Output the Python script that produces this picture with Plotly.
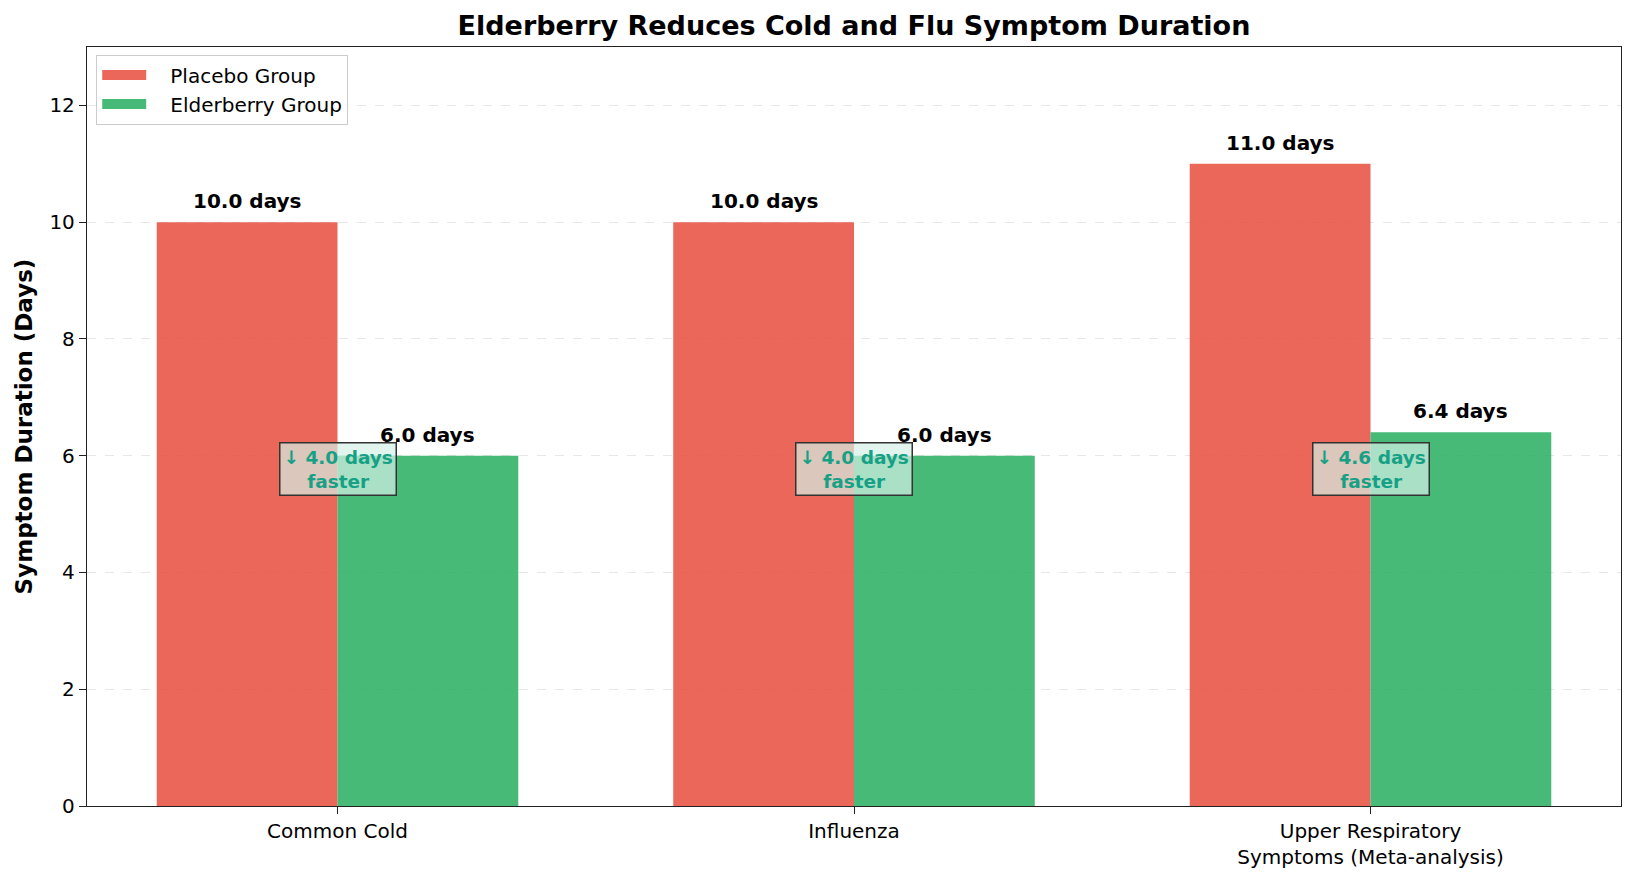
import plotly.graph_objects as go

categories = ["Common Cold", "Influenza", "Upper Respiratory<br>Symptoms (Meta-analysis)"]
placebo_days = [10.0, 10.0, 11.0]
elderberry_days = [6.0, 6.0, 6.4]
y_ticks = [0, 2, 4, 6, 8, 10, 12]
series_names = ["Placebo Group", "Elderberry Group"]

FONT = "DejaVu Sans"
RED = "rgba(231,76,60,0.85)"
GREEN = "rgba(39,174,96,0.85)"
BAR_W = 0.35
BOX_Y = 5.78

idx = list(range(len(categories)))

fig = go.Figure()
fig.add_trace(go.Bar(x=idx, y=placebo_days, name=series_names[0], marker_color=RED,
                     marker_line_width=0, width=BAR_W, offset=-BAR_W, showlegend=False))
fig.add_trace(go.Bar(x=idx, y=elderberry_days, name=series_names[1], marker_color=GREEN,
                     marker_line_width=0, width=BAR_W, offset=0, showlegend=False))
# legend swatches (wide rectangles like the reference)
for name, col in zip(series_names, (RED, GREEN)):
    fig.add_trace(go.Scatter(x=[None], y=[None], mode="lines", name="\u00a0\u00a0\u00a0" + name,
                             line=dict(color=col, width=14)))

annotations = []
for i, (p, e) in enumerate(zip(placebo_days, elderberry_days)):
    for xv, v in ((i - BAR_W / 2, p), (i + BAR_W / 2, e)):
        annotations.append(dict(x=xv, y=v, xref="x", yref="y", text=f"<b>{v:.1f} days</b>",
                                showarrow=False, yanchor="bottom", yshift=7,
                                font=dict(family=FONT, size=20, color="black")))
    annotations.append(dict(x=i, y=BOX_Y, xref="x", yref="y",
                            text=f"<b>↓ {p - e:.1f} days<br>faster</b>",
                            showarrow=False, yanchor="middle", xanchor="center",
                            font=dict(family=FONT, size=18.5, color="#16a085"),
                            bgcolor="rgba(212,241,231,0.7)", bordercolor="#333333",
                            borderwidth=1.5, borderpad=3))

fig.update_layout(
    width=1635, height=881,
    margin=dict(l=87, r=14, t=47, b=73),
    plot_bgcolor="white", paper_bgcolor="white",
    font=dict(family=FONT, size=20, color="black"),
    barmode="overlay",
    title=dict(text="<b>Elderberry Reduces Cold and Flu Symptom Duration</b>",
               x=0.5, xref="paper", xanchor="center", y=1 - 26 / 881, yanchor="middle",
               font=dict(family=FONT, size=27, color="black")),
    legend=dict(x=0.006, y=0.99, xanchor="left", yanchor="top",
                bgcolor="rgba(255,255,255,0.8)", bordercolor="#cccccc", borderwidth=1,
                font=dict(family=FONT, size=20), tracegroupgap=4, itemwidth=44),
    annotations=annotations,
    showlegend=True,
)
fig.update_xaxes(range=[-0.485, 2.485], tickvals=idx, ticktext=categories,
                 showline=True, mirror=True, linecolor="#222222", linewidth=1.3,
                 ticks="outside", ticklen=7, tickcolor="#222222", showgrid=False,
                 zeroline=False, tickfont=dict(family=FONT, size=20))
fig.update_yaxes(range=[0, 13], tickvals=y_ticks,
                 showline=True, mirror=True, linecolor="#222222", linewidth=1.3,
                 ticks="outside", ticklen=7, tickcolor="#222222",
                 showgrid=True, gridcolor="rgba(176,176,176,0.3)", griddash="dash", gridwidth=1,
                 zeroline=False, tickfont=dict(family=FONT, size=20),
                 title=dict(text="<b>Symptom Duration (Days)</b>", standoff=10,
                            font=dict(family=FONT, size=23)))

fig.write_html("out.html")
